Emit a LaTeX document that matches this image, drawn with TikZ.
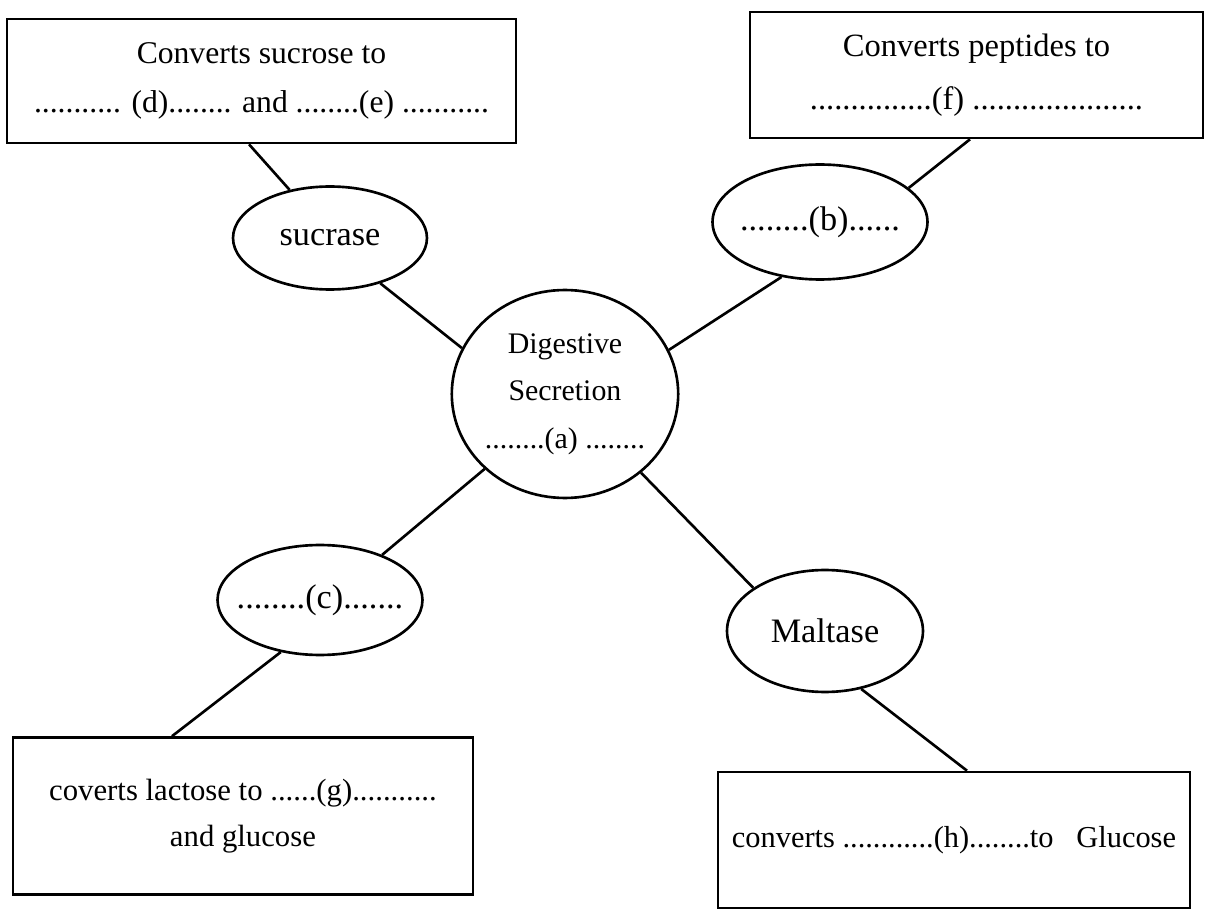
\documentclass[tikz,border=0pt]{standalone}
\usepackage{fontspec}
\setmainfont{Liberation Serif}
\usetikzlibrary{shapes.geometric}
\begin{document}
\begin{tikzpicture}[x=0.02cm,y=-0.02cm,
    box/.style={draw,line width=1.5pt,rectangle,inner sep=0pt,align=center},
    enzyme/.style={draw,line width=1.5pt,ellipse,inner sep=0pt,inner xsep=-8pt,align=center,font=\fontsize{19.5}{22}\selectfont},
    link/.style={line width=1.5pt}]
  \useasboundingbox (0,0) rectangle (1205,922);
  % outer boxes
  \node[box,minimum width=10.18cm,minimum height=2.48cm,font=\fontsize{18}{28}\selectfont] (sucbox) at (261.5,81)
    {Converts sucrose to\\........... (d)........ and ........(e) ...........};
  \node[box,minimum width=9.06cm,minimum height=2.52cm,font=\fontsize{18.5}{30}\selectfont] (pepbox) at (976.5,75)
    {Converts peptides to\\...............(f) .....................};
  \node[box,minimum width=9.2cm,minimum height=3.14cm,font=\fontsize{17.5}{26}\selectfont] (lacbox) at (243,816)
    {coverts lactose to ......(g)...........\\and glucose};
  \node[box,minimum width=9.44cm,minimum height=2.72cm,font=\fontsize{17.3}{26}\selectfont] (malbox) at (954,840)
    {converts ............(h)........to~~~Glucose};
  % enzymes and centre
  \node[enzyme,minimum width=3.88cm,minimum height=2.06cm] (sucrase) at (330,238) {sucrase};
  \node[enzyme,minimum width=4.3cm,minimum height=2.3cm] (enzb) at (820,222) {........(b)......};
  \node[enzyme,minimum width=4.1cm,minimum height=2.2cm] (enzc) at (320,600) {........(c).......};
  \node[enzyme,minimum width=3.92cm,minimum height=2.44cm] (maltase) at (825,631) {Maltase};
  \node[enzyme,inner xsep=0pt,minimum width=4.52cm,minimum height=4.16cm,font=\fontsize{17}{27}\selectfont] (secretion) at (565,394)
    {Digestive\\Secretion\\........(a) ........};
  % connectors
  \draw[link] ([xshift=-0.25cm]sucbox.south) -- (sucrase.130);
  \draw[link] (sucrase.-42) -- (secretion.156);
  \draw[link] (secretion.23) -- (enzb.-125);
  \draw[link] (enzb.21) -- ([xshift=-0.13cm]pepbox.south);
  \draw[link] (secretion.223) -- (enzc.36);
  \draw[link] (enzc.-127) -- ([xshift=-1.42cm]lacbox.north);
  \draw[link] (secretion.-46) -- (maltase.149);
  \draw[link] (maltase.-58) -- ([xshift=0.26cm]malbox.north);
\end{tikzpicture}
\end{document}
